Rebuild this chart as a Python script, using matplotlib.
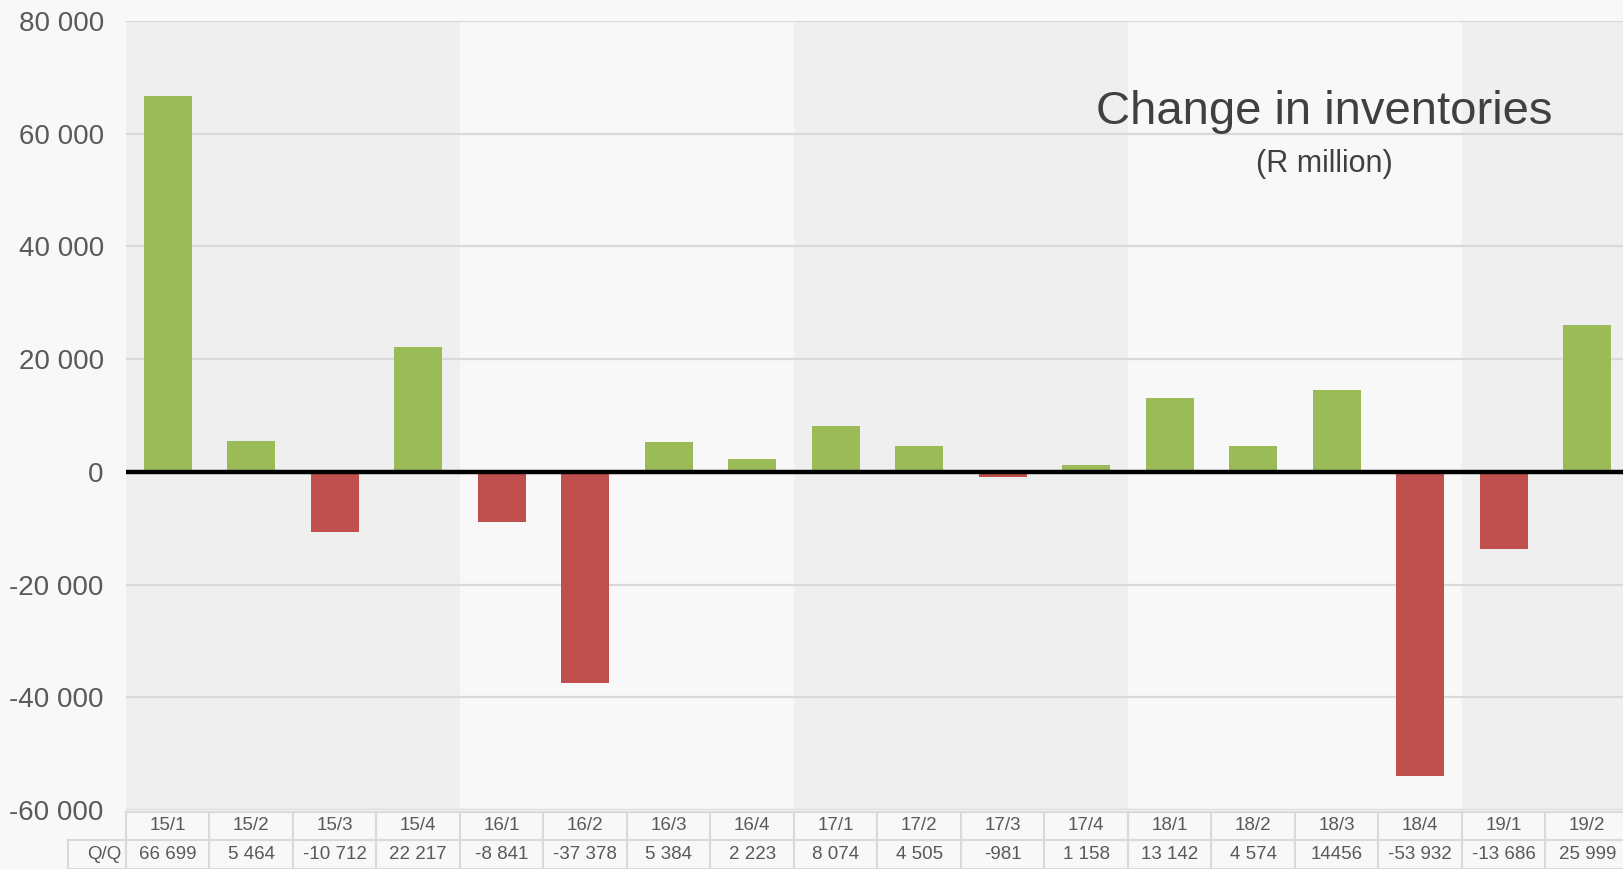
import numpy as np
import matplotlib.pyplot as plt
import matplotlib.transforms as mtransforms
from matplotlib.ticker import FuncFormatter

plt.rcParams['font.family'] = ['Liberation Sans', 'DejaVu Sans']

quarters = ["15/1", "15/2", "15/3", "15/4", "16/1", "16/2", "16/3", "16/4",
            "17/1", "17/2", "17/3", "17/4", "18/1", "18/2", "18/3", "18/4",
            "19/1", "19/2"]
values = [66699, 5464, -10712, 22217, -8841, -37378, 5384, 2223,
          8074, 4505, -981, 1158, 13142, 4574, 14456, -53932, -13686, 25999]
value_labels = ["66 699", "5 464", "-10 712", "22 217", "-8 841", "-37 378",
                "5 384", "2 223", "8 074", "4 505", "-981", "1 158", "13 142",
                "4 574", "14456", "-53 932", "-13 686", "25 999"]
shaded_years = [(0, 3), (8, 11), (16, 17)]

bg = "#f8f8f8"
green = "#9bbb59"
red = "#c0504d"
line_c = "#d9d9d9"
txt_c = "#595959"

fig = plt.figure(figsize=(16.24, 8.69), dpi=100, facecolor=bg)
ax = fig.add_axes([126 / 1624, 1 - 810 / 869, 1503 / 1624, 789 / 869])
ax.set_facecolor(bg)

n = len(values)
x = np.arange(n)
for a, b in shaded_years:
    ax.axvspan(a - 0.5, b + 0.5, color="#efefef", zorder=0, lw=0)

colors = [green if v >= 0 else red for v in values]
ax.bar(x, values, width=0.57, color=colors, zorder=3)
ax.axhline(0, color="black", lw=3.2, zorder=4)

ax.set_ylim(-60000, 80000)
ax.set_xlim(-0.5, n - 0.5)
ax.set_yticks(np.arange(-60000, 80001, 20000))
ax.yaxis.set_major_formatter(FuncFormatter(lambda v, p: f"{int(v):,}".replace(",", " ")))
ax.tick_params(axis="y", length=0, pad=16, labelsize=20, labelcolor=txt_c)
ax.set_xticks([])
ax.grid(axis="y", color=line_c, lw=1.6, zorder=1)
ax.set_axisbelow(True)
for s in ax.spines.values():
    s.set_visible(False)

ax.text(0.797, 0.885, "Change in inventories", transform=ax.transAxes,
        ha="center", va="center", fontsize=34, color="#404040")
ax.text(0.797, 0.819, "(R million)", transform=ax.transAxes,
        ha="center", va="center", fontsize=22, color="#404040")

# data table under the plot: x in data units, y in axes fraction
tr = mtransforms.blended_transform_factory(ax.transData, ax.transAxes)
r_top, r_mid, r_bot = -2 / 789, -30 / 789, -59 / 789
lab_left = -0.5 - 58 / 83.5
kw = dict(transform=tr, color=line_c, lw=1.5, clip_on=False, zorder=5)
ax.plot([-0.5, n - 0.5], [r_top, r_top], **kw)
ax.plot([lab_left, n - 0.5], [r_mid, r_mid], **kw)
ax.plot([lab_left, n - 0.5], [r_bot, r_bot], **kw)
for i in range(n + 1):
    ax.plot([i - 0.5, i - 0.5], [r_top, r_bot], **kw)
ax.plot([lab_left, lab_left], [r_mid, r_bot], **kw)
for i in range(n):
    ax.text(i, (r_top + r_mid) / 2, quarters[i], transform=tr, ha="center",
            va="center", fontsize=13.5, color=txt_c, clip_on=False)
    ax.text(i, (r_mid + r_bot) / 2, value_labels[i], transform=tr, ha="center",
            va="center", fontsize=13.5, color=txt_c, clip_on=False)
ax.text(-0.55, (r_mid + r_bot) / 2, "Q/Q", transform=tr, ha="right",
        va="center", fontsize=13.5, color=txt_c, clip_on=False)

fig.savefig("out.png", dpi=100, facecolor=bg)
